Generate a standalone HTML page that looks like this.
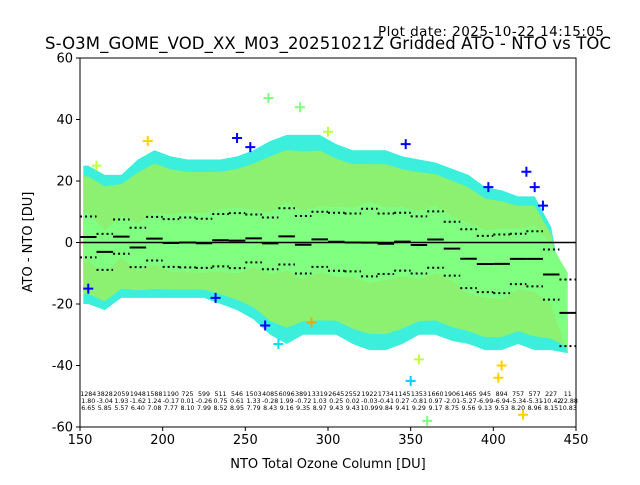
<!DOCTYPE html>
<html><head><meta charset="utf-8"><style>
body{margin:0;background:#fff;font-family:"Liberation Sans","DejaVu Sans",sans-serif}
svg text{font-family:"DejaVu Sans","Liberation Sans",sans-serif}
</style></head><body>
<svg id="chart" width="640" height="480" xmlns="http://www.w3.org/2000/svg">
<rect width="640" height="480" fill="#fff"/>
<text x="604" y="36" font-size="13.5" text-anchor="end" textLength="226">Plot date: 2025-10-22 14:15:05</text>
<text x="328" y="49" font-size="16.5" text-anchor="middle" textLength="566">S-O3M_GOME_VOD_XX_M03_20251021Z Gridded ATO - NTO vs TOC</text>
<text x="328" y="468" font-size="13" text-anchor="middle">NTO Total Ozone Column [DU]</text>
<text transform="translate(32,242) rotate(-90)" font-size="13" text-anchor="middle">ATO - NTO [DU]</text>
<g id="plot"></g>
</svg>
<script>
const binCenters=[155,165,175,185,195,205,215,225,235,245,255,265,275,285,295,305,315,325,335,345,355,365,375,385,395,405,415,425,435,445];
const counts=[1284,3828,2059,1948,1588,1190,725,599,511,546,1503,4085,6096,3891,3319,2645,2552,1922,1734,1145,1353,1660,1906,1465,945,894,757,577,227,11];
const means=[1.80,-3.04,1.93,-1.62,1.24,-0.17,0.01,-0.26,0.75,0.61,1.33,-0.28,1.99,-0.72,1.03,0.25,0.02,-0.03,-0.41,0.27,-0.81,0.97,-2.01,-5.27,-6.99,-6.94,-5.34,-5.31,-10.42,-22.88];
const stds=[6.65,5.85,5.57,6.40,7.08,7.77,8.10,7.99,8.52,8.95,7.79,8.43,9.16,9.35,8.97,9.43,9.43,10.99,9.84,9.41,9.29,9.17,8.75,9.56,9.13,9.53,8.20,8.96,8.15,10.83];
const upperEnv=[25,22,22,27,30,28,27,27,27,28,30,33,35,35,35,32,30,30,30,28,27,26,24,22,18,17,15,15,5,-25];
const lowerEnv=[-20,-22,-18,-18,-18,-18,-18,-18,-20,-22,-25,-30,-33,-30,-30,-30,-33,-35,-35,-33,-30,-30,-32,-33,-35,-35,-33,-35,-35,-36];
const outX=[253,245,347,397,420,425,155,232,430,264,283,300,160,191,262,350,418,403,270,290,355,360,405];
const outY=[31,34,32,18,23,18,-15,-18,12,47,44,36,25,33,-27,-45,-56,-44,-33,-26,-38,-58,-40];
const outC=["#0000ff","#0000ff","#0000ff","#0000ff","#0000ff","#0000ff","#0000ff","#0000ff","#0000ff","#80ff80","#80ff80","#c0ff40","#c0ff40","#ffd000","#0000ff","#00d0ff","#ffd000","#ffd000","#00e0ff","#ffa000","#c0ff40","#80ff80","#ffd000"];
const xTicks=[150,200,250,300,350,400,450];
const yTicks=[60,40,20,0,-20,-40,-60];

const L=80,R=576,T=58,B=427;
const xs=v=>L+(v-150)/300*(R-L);
const ys=v=>T+(60-v)/120*(B-T);
const NS="http://www.w3.org/2000/svg";
const g=document.getElementById('plot');
function mk(tag,attrs,parent){const e=document.createElementNS(NS,tag);for(const k in attrs)e.setAttribute(k,attrs[k]);(parent||g).appendChild(e);return e;}

const defs=mk('defs',{});const cp=mk('clipPath',{id:'clip'},defs);mk('rect',{x:L,y:T,width:R-L,height:B-T},cp);
const cloud=mk('g',{'clip-path':'url(#clip)'});


function band(up,lo,color,name){
  let pts=[];
  pts.push([xs(152),ys(up[0])]);
  binCenters.forEach((c,i)=>pts.push([xs(c),ys(up[i])]));
  for(let i=binCenters.length-1;i>=0;i--)pts.push([xs(binCenters[i]),ys(lo[i])]);
  pts.push([xs(152),ys(lo[0])]);
  const p=mk('polygon',{points:pts.map(p=>p.join(',')).join(' '),fill:color},cloud);
  
  
}
band(upperEnv,lowerEnv,'#3ceedc','cloud-outer');
band(upperEnv.map((u,i)=>means[i]+(u-means[i])*0.85),lowerEnv.map((l,i)=>means[i]+(l-means[i])*0.85),'#8cf070','cloud-mid');
band(means.map((m,i)=>m+stds[i]*1.2),means.map((m,i)=>m-stds[i]*1.2),'#80ff80','cloud-core');
outX.forEach((x,i)=>{
  const px=xs(x),py=ys(outY[i]);
  const p=mk('path',{d:`M${px-5},${py}H${px+5}M${px},${py-5}V${py+5}`,stroke:outC[i],'stroke-width':2},cloud);
  
  
});
const z=mk('line',{x1:L,x2:R,y1:ys(0),y2:ys(0),stroke:'#000','stroke-width':1.5});


binCenters.forEach((c,i)=>{
  const x1=xs(c-5),x2=xs(c+5);
  const m=mk('line',{x1,x2,y1:ys(means[i]),y2:ys(means[i]),stroke:'#000','stroke-width':2});
  
  
  [1,-1].forEach(s=>{
    const d=mk('line',{x1,x2,y1:ys(means[i]+s*stds[i]),y2:ys(means[i]+s*stds[i]),stroke:'#000','stroke-width':2,'stroke-dasharray':'2,3'});
    
    
  });
  const rows=[counts[i],means[i].toFixed(2),stds[i].toFixed(2)];
  rows.forEach((r,j)=>{
    const t=mk('text',{x:xs(c),y:396+j*7,'font-size':6.3,'text-anchor':'middle'});
    t.textContent=r;
    
    
  });
});
const fr=mk('rect',{x:L,y:T,width:R-L,height:B-T,fill:'none',stroke:'#000','stroke-width':1});


xTicks.forEach(v=>{
  const l=mk('line',{x1:xs(v),x2:xs(v),y1:B,y2:B+4,stroke:'#000'});
  
  
  const t=mk('text',{x:xs(v),y:B+17,'font-size':13,'text-anchor':'middle'});t.textContent=v;
  
  
});
yTicks.forEach(v=>{
  const l=mk('line',{x1:L-4,x2:L,y1:ys(v),y2:ys(v),stroke:'#000'});
  
  
  const t=mk('text',{x:L-7,y:ys(v)+4.5,'font-size':13,'text-anchor':'end'});t.textContent=v;
  
  
});
</script>
</body></html>
